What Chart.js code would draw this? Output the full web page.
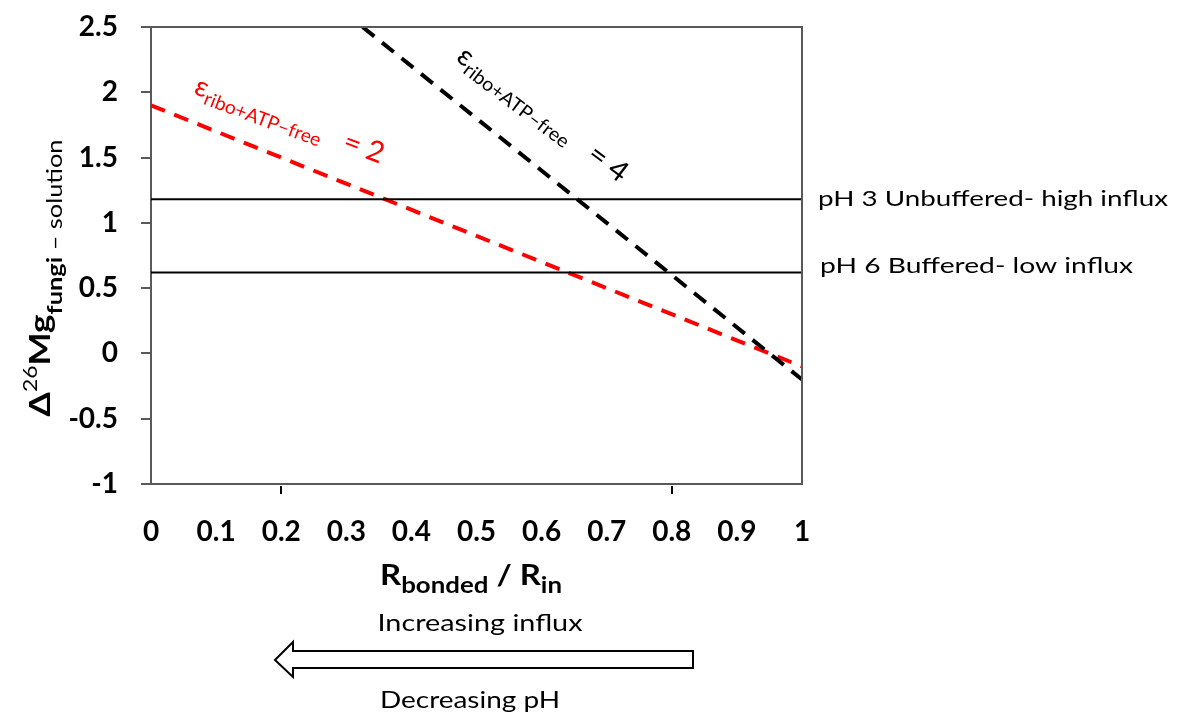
<!DOCTYPE html>
<html>
<head>
<meta charset="utf-8">
<script src="https://cdn.jsdelivr.net/npm/chart.js@4.4.1/dist/chart.umd.min.js"></script>
<style>
  body { margin: 0; background: #fff; }
  #quadro { width: 1181px; height: 715px; position: relative; }
</style>
</head>
<body>
<div id="quadro"><canvas id="grafico"></canvas></div>
<script>
// ---------------- dados ----------------
const eps2_x = [0, 1];             // R_bonded / R_in
const eps2_y = [1.9, -0.1];        // epsilon = 2 (vermelho)
const eps4_x = [0.325, 1];
const eps4_y = [2.5, -0.2];        // epsilon = 4 (preto)
const ph_x = [0, 1];
const ph3_y = [1.18, 1.18];        // pH 3 sem tampao
const ph6_y = [0.62, 0.62];        // pH 6 com tampao

const ticks_x = [0, 0.1, 0.2, 0.3, 0.4, 0.5, 0.6, 0.7, 0.8, 0.9, 1];
const ticks_y = [-1, -0.5, 0, 0.5, 1, 1.5, 2, 2.5];

const rotulo_ph3 = 'pH 3 Unbuffered- high influx';
const rotulo_ph6 = 'pH 6 Buffered- low influx';
const seta_cima = 'Increasing influx';
const seta_baixo = 'Decreasing pH';

// ancoras dos rotulos de epsilon (em coordenadas do grafico)
const ancora_eps2 = [0.064, 1.99];
const ancora_eps4 = [0.467, 2.25];

const FONTE = 'Lato';

// desenha texto com partes (sub/sobrescrito), opcionalmente esticado ate uma largura
function desenhar_rico(ctx, partes, x, y, angulo, largura, alinhamento) {
  ctx.save();
  let total = 0;
  partes.forEach(p => { ctx.font = p[1]; total += ctx.measureText(p[0]).width; });
  const sx = largura ? largura / total : 1;
  ctx.translate(x, y);
  ctx.rotate(angulo);
  ctx.scale(sx, 1);
  ctx.textAlign = 'left';
  ctx.textBaseline = 'alphabetic';
  let cx = alinhamento === 'center' ? -total / 2 : 0;
  partes.forEach(p => {
    ctx.font = p[1];
    ctx.fillText(p[0], cx, p[2]);
    cx += ctx.measureText(p[0]).width;
  });
  ctx.restore();
}

const extras = {
  id: 'extras',
  afterDraw(chart) {
    const ctx = chart.ctx;
    const a = chart.chartArea;
    const sx = chart.scales.x, sy = chart.scales.y;

    // moldura de cima e da direita
    ctx.save();
    ctx.strokeStyle = '#595959';
    ctx.lineWidth = 2;
    ctx.beginPath();
    ctx.moveTo(a.left, a.top);
    ctx.lineTo(a.right, a.top);
    ctx.lineTo(a.right, a.bottom);
    ctx.stroke();

    // pequenos tracos no eixo x (0.2 e 0.8)
    ctx.strokeStyle = '#000';
    [0.2, 0.8].forEach(v => {
      const px = Math.round(sx.getPixelForValue(v));
      ctx.beginPath();
      ctx.moveTo(px, a.bottom + 2);
      ctx.lineTo(px, a.bottom + 10);
      ctx.stroke();
    });
    ctx.restore();

    ctx.fillStyle = '#000';
    // rotulos das linhas de pH
    desenhar_rico(ctx, [[rotulo_ph3, '21px ' + FONTE, 0]], 818, sy.getPixelForValue(ph3_y[0]) + 7, 0, 350);
    desenhar_rico(ctx, [[rotulo_ph6, '21px ' + FONTE, 0]], 820, sy.getPixelForValue(ph6_y[0]) + 1, 0, 313);

    // rotulos de epsilon
    ctx.fillStyle = '#ff0000';
    desenhar_rico(ctx, [
      ['\u03b5', '28px ' + FONTE, 0],
      ['ribo+ATP\u2013free', '19px ' + FONTE, 6],
      ['   = 2', '29px ' + FONTE, 0]
    ], sx.getPixelForValue(ancora_eps2[0]), sy.getPixelForValue(ancora_eps2[1]), 20.5 * Math.PI / 180, 200);

    ctx.fillStyle = '#000';
    desenhar_rico(ctx, [
      ['\u03b5', '28px ' + FONTE, 0],
      ['ribo+ATP\u2013free', '19px ' + FONTE, 6],
      ['   = 4', '29px ' + FONTE, 0]
    ], sx.getPixelForValue(ancora_eps4[0]), sy.getPixelForValue(ancora_eps4[1]), 37 * Math.PI / 180, 206);

    // titulo do eixo y
    desenhar_rico(ctx, [
      ['\u0394', 'bold 29px ' + FONTE, 0],
      ['26', '19px ' + FONTE, -13],
      ['Mg', 'bold 29px ' + FONTE, 0],
      ['fungi', 'bold 21px ' + FONTE, 12],
      [' \u2013 solution', '21px ' + FONTE, 12]
    ], 50, 278, -Math.PI / 2, 277, 'center');

    // titulo do eixo x
    desenhar_rico(ctx, [
      ['R', 'bold 28px ' + FONTE, 0],
      ['bonded', 'bold 22px ' + FONTE, 8],
      [' / ', 'bold 28px ' + FONTE, 0],
      ['R', 'bold 28px ' + FONTE, 0],
      ['in', 'bold 22px ' + FONTE, 8]
    ], 471, 585, 0, 182, 'center');

    // seta e textos de baixo
    desenhar_rico(ctx, [[seta_cima, '23px ' + FONTE, 0]], 480, 631, 0, 205, 'center');
    desenhar_rico(ctx, [[seta_baixo, '23px ' + FONTE, 0]], 470, 708, 0, 180, 'center');

    ctx.save();
    ctx.beginPath();
    ctx.moveTo(275, 660);
    ctx.lineTo(293, 642);
    ctx.lineTo(293, 651);
    ctx.lineTo(693, 651);
    ctx.lineTo(693, 668);
    ctx.lineTo(293, 668);
    ctx.lineTo(293, 677);
    ctx.closePath();
    ctx.fillStyle = '#fff';
    ctx.fill();
    ctx.strokeStyle = '#000';
    ctx.lineWidth = 2;
    ctx.stroke();
    ctx.restore();
  }
};

const pontos = (xs, ys) => xs.map((x, i) => ({ x: x, y: ys[i] }));

new Chart(document.getElementById('grafico'), {
  type: 'line',
  data: {
    datasets: [
      { data: pontos(ph_x, ph3_y), borderColor: '#000', borderWidth: 2, pointRadius: 0 },
      { data: pontos(ph_x, ph6_y), borderColor: '#000', borderWidth: 2, pointRadius: 0 },
      { data: pontos(eps4_x, eps4_y), borderColor: '#000', borderWidth: 4, borderDash: [15, 10], pointRadius: 0 },
      { data: pontos(eps2_x, eps2_y), borderColor: '#ff0000', borderWidth: 4, borderDash: [15, 10], pointRadius: 0 }
    ]
  },
  options: {
    responsive: true,
    maintainAspectRatio: false,
    animation: false,
    layout: { padding: { top: 27, right: 379, left: 0, bottom: 0 } },
    plugins: { legend: { display: false }, tooltip: { enabled: false } },
    scales: {
      x: {
        type: 'linear',
        min: 0, max: 1,
        afterFit: s => { s.height = 231; },
        afterBuildTicks: s => { s.ticks = ticks_x.map(v => ({ value: v })); },
        grid: { display: false, drawTicks: false },
        border: { color: '#595959', width: 2 },
        ticks: {
          color: '#000', padding: 31, maxRotation: 0, autoSkip: false,
          font: { family: FONTE, size: 28, weight: 'bold' },
          callback: v => String(v)
        }
      },
      y: {
        min: -1, max: 2.5,
        // largura fixa e sem folga extra em cima/baixo
        afterFit: s => { s.width = 151; s.paddingTop = 0; s.paddingBottom = 0; },
        afterBuildTicks: s => { s.ticks = ticks_y.map(v => ({ value: v })); },
        grid: { drawOnChartArea: false, drawTicks: true, tickLength: 10, color: '#595959', lineWidth: 2 },
        border: { color: '#595959', width: 2 },
        ticks: {
          color: '#000', padding: 23,
          font: { family: FONTE, size: 28, weight: 'bold' },
          callback: v => String(v)
        }
      }
    }
  },
  plugins: [extras]
});
</script>
</body>
</html>
